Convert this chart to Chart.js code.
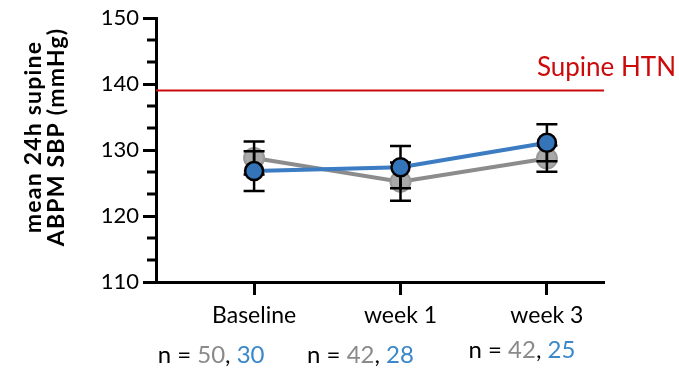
<!DOCTYPE html>
<html>
<head>
<meta charset="utf-8">
<script src="https://cdn.jsdelivr.net/npm/chart.js@4.4.1/dist/chart.umd.min.js"></script>
<style>
  body { margin: 0; background: #fff; }
  #wrap { width: 679px; height: 369px; }
</style>
</head>
<body>
<div id="wrap"><canvas id="myChartLine" width="679" height="369"></canvas></div>
<script>
// data
const categories = ['Baseline', 'week 1', 'week 3'];
const grayMean = [128.8, 125.2, 128.7];
const grayErr = [2.5, 2.9, 2.0];
const blueMean = [126.8, 127.4, 131.1];
const blueErr = [3.0, 3.2, 2.8];
const grayN = [50, 42, 42];
const blueN = [30, 28, 25];
const htnThreshold = 139;
const htnLabel = 'Supine HTN';
const yTickValues = [110, 120, 130, 140, 150];
const yTitle = ['mean 24h supine', 'ABPM SBP (mmHg)'];

const xMin = -0.67, xMax = 2.39;
const FONT = 'Lato';

const grayLine = '#8c8c8c';
const blueLine = '#3b7cc3';
const grayText = '#8a8a8a';
const blueText = '#3a87c9';

function pts(arr) {
  return arr.map((v, i) => ({ x: i, y: v }));
}

const extras = {
  id: 'extras',
  afterDatasetDraw(chart, args) {
    if (args.index !== 1) return;
    // error bars drawn after the gray series, before the blue one
    const ctx = chart.ctx;
    const xs = chart.scales.x, ys = chart.scales.y;
    ctx.save();
    ctx.strokeStyle = '#000';
    ctx.lineWidth = 2.5;
    const bars = [[grayMean, grayErr], [blueMean, blueErr]];
    bars.forEach(([m, e]) => {
      m.forEach((v, i) => {
        const x = xs.getPixelForValue(i);
        const t = ys.getPixelForValue(v + e[i]);
        const b = ys.getPixelForValue(v - e[i]);
        ctx.beginPath();
        ctx.moveTo(x, t); ctx.lineTo(x, b);
        ctx.moveTo(x - 10.5, t); ctx.lineTo(x + 10.5, t);
        ctx.moveTo(x - 10.5, b); ctx.lineTo(x + 10.5, b);
        ctx.stroke();
      });
    });
    ctx.restore();
  },
  afterDraw(chart) {
    const ctx = chart.ctx;
    const xs = chart.scales.x, ys = chart.scales.y;
    const left = chart.chartArea.left;
    ctx.save();

    // minor ticks on y
    ctx.strokeStyle = '#000';
    ctx.lineWidth = 3;
    for (let k = 0; k <= 12; k++) {
      if (k % 3 === 0) continue;
      const y = ys.getPixelForValue(110 + k * 10 / 3);
      ctx.beginPath();
      ctx.moveTo(left - 9, y); ctx.lineTo(left, y);
      ctx.stroke();
    }

    // y title
    ctx.fillStyle = '#000';
    ctx.font = 'bold 23px ' + FONT;
    ctx.letterSpacing = '1.2px';
    ctx.textAlign = 'center';
    ctx.textBaseline = 'alphabetic';
    [41, 64].forEach((bx, i) => {
      ctx.save();
      ctx.translate(bx, 137);
      ctx.rotate(-Math.PI / 2);
      ctx.fillText(yTitle[i], 0, 0);
      ctx.restore();
    });
    ctx.letterSpacing = '0px';

    // threshold label
    ctx.fillStyle = '#cc0a0a';
    ctx.font = '26px ' + FONT;
    ctx.textAlign = 'right';
    ctx.fillText(htnLabel, 676, 76);

    // n = labels
    ctx.font = '24px ' + FONT;
    ctx.textAlign = 'left';
    const centerOff = [-43, -40, -25];
    const baseY = [363, 363, 358];
    categories.forEach((c, i) => {
      const parts = [
        ['n = ', '#000'],
        [String(grayN[i]), grayText],
        [', ', '#000'],
        [String(blueN[i]), blueText]
      ];
      const w = parts.reduce((s, p) => s + ctx.measureText(p[0]).width, 0);
      let x = xs.getPixelForValue(i) + centerOff[i] - w / 2;
      parts.forEach(p => {
        ctx.fillStyle = p[1];
        ctx.fillText(p[0], x, baseY[i]);
        x += ctx.measureText(p[0]).width;
      });
    });
    ctx.restore();
  }
};

new Chart(document.getElementById('myChartLine'), {
  type: 'line',
  data: {
    datasets: [
      {
        label: 'blue',
        data: pts(blueMean),
        borderColor: blueLine,
        borderWidth: 4,
        pointRadius: 9,
        pointBackgroundColor: '#3474b9',
        pointBorderColor: '#000',
        pointBorderWidth: 2.5
      },
      {
        label: 'gray',
        data: pts(grayMean),
        borderColor: grayLine,
        borderWidth: 4,
        pointRadius: 10,
        pointBackgroundColor: '#a9a9a9',
        pointBorderColor: '#999',
        pointBorderWidth: 2
      },
      {
        label: htnLabel,
        data: [{ x: xMin, y: htnThreshold }, { x: xMax, y: htnThreshold }],
        borderColor: '#cc0a0a',
        borderWidth: 2,
        pointRadius: 0
      }
    ]
  },
  options: {
    responsive: false,
    animation: false,
    events: [],
    layout: { padding: { top: 18, right: 75, left: 0, bottom: 0 } },
    plugins: { legend: { display: false }, tooltip: { enabled: false } },
    scales: {
      x: {
        type: 'linear',
        min: xMin,
        max: xMax,
        afterBuildTicks: s => { s.ticks = categories.map((c, i) => ({ value: i })); },
        afterFit: s => { s.height = 87; },
        ticks: {
          callback: v => categories[v],
          color: '#000',
          font: { family: FONT, size: 23 },
          padding: 7,
          maxRotation: 0
        },
        grid: { drawOnChartArea: false, tickLength: 13, tickWidth: 3, tickColor: '#000' },
        border: { color: '#000', width: 3 }
      },
      y: {
        min: 110,
        max: 150,
        afterBuildTicks: s => { s.ticks = yTickValues.map(v => ({ value: v })); },
        afterFit: s => { s.width = 156; },
        ticks: {
          color: '#000',
          font: { family: FONT, size: 22 },
          padding: 4
        },
        grid: { drawOnChartArea: false, tickLength: 13, tickWidth: 3, tickColor: '#000' },
        border: { color: '#000', width: 3 }
      }
    }
  },
  plugins: [extras]
});
</script>
</body>
</html>
